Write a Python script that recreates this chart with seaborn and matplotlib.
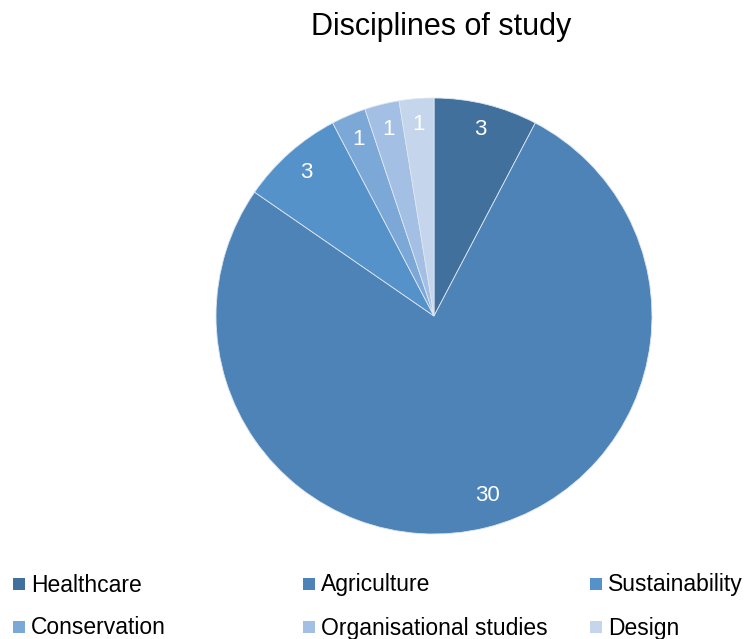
import matplotlib
matplotlib.use("Agg")
import numpy as np
import matplotlib.pyplot as plt
from matplotlib.patches import Rectangle
import seaborn as sns

# Data
disciplines = ["Healthcare", "Agriculture", "Sustainability",
               "Conservation", "Organisational studies", "Design"]
counts = [3, 30, 3, 1, 1, 1]
colors = ["#41709C", "#4D83B7", "#5592CA", "#7CA8D8", "#A3C0E4", "#C4D5EC"]

sns.set_theme(style="white")
plt.rcParams["font.family"] = ["Liberation Sans", "DejaVu Sans"]

W, H = 754, 639
fig = plt.figure(figsize=(W / 100, H / 100), dpi=100)
fig.patch.set_facecolor("white")

# Pie axes: centre (434, 316), radius 218 px
cx, cy, r = 434, 316, 218
ax = fig.add_axes([(cx - r) / W, (H - (cy + r)) / H, 2 * r / W, 2 * r / H])
wedges, texts = ax.pie(
    counts,
    colors=colors,
    startangle=90,
    counterclock=False,
    labels=[str(c) for c in counts],
    labeldistance=0.88,
    wedgeprops=dict(edgecolor="#dde6f0", linewidth=0.6),
    textprops=dict(color="white", fontsize=16, ha="center", va="center"),
)

# The label of the dominant slice sits a little further round the arc
big = int(np.argmax(counts))
w = wedges[big]
ang = np.deg2rad((w.theta1 + w.theta2) / 2 + 2.8)
texts[big].set_position((0.86 * np.cos(ang), 0.86 * np.sin(ang)))

ax.set_xlim(-1, 1)
ax.set_ylim(-1, 1)
ax.set_aspect("equal")
ax.axis("off")

fig.text(441 / W, 1 - 27 / H, "Disciplines of study", ha="center", va="center",
         fontsize=22, color="black")

# Legend laid out in a 3x2 grid
col_x = [13, 303, 590]
row_y = [584, 627]
for i, (name, col) in enumerate(zip(disciplines, colors)):
    x = col_x[i % 3]
    y = row_y[i // 3]
    fig.patches.append(Rectangle((x / W, 1 - (y + 6) / H), 12 / W, 12 / H,
                                 transform=fig.transFigure, facecolor=col,
                                 edgecolor="none"))
    fig.text((x + 18) / W, 1 - (y + 1) / H, name, ha="left", va="center",
             fontsize=16.5, color="black")

fig.savefig("out.png", dpi=100, facecolor="white")
